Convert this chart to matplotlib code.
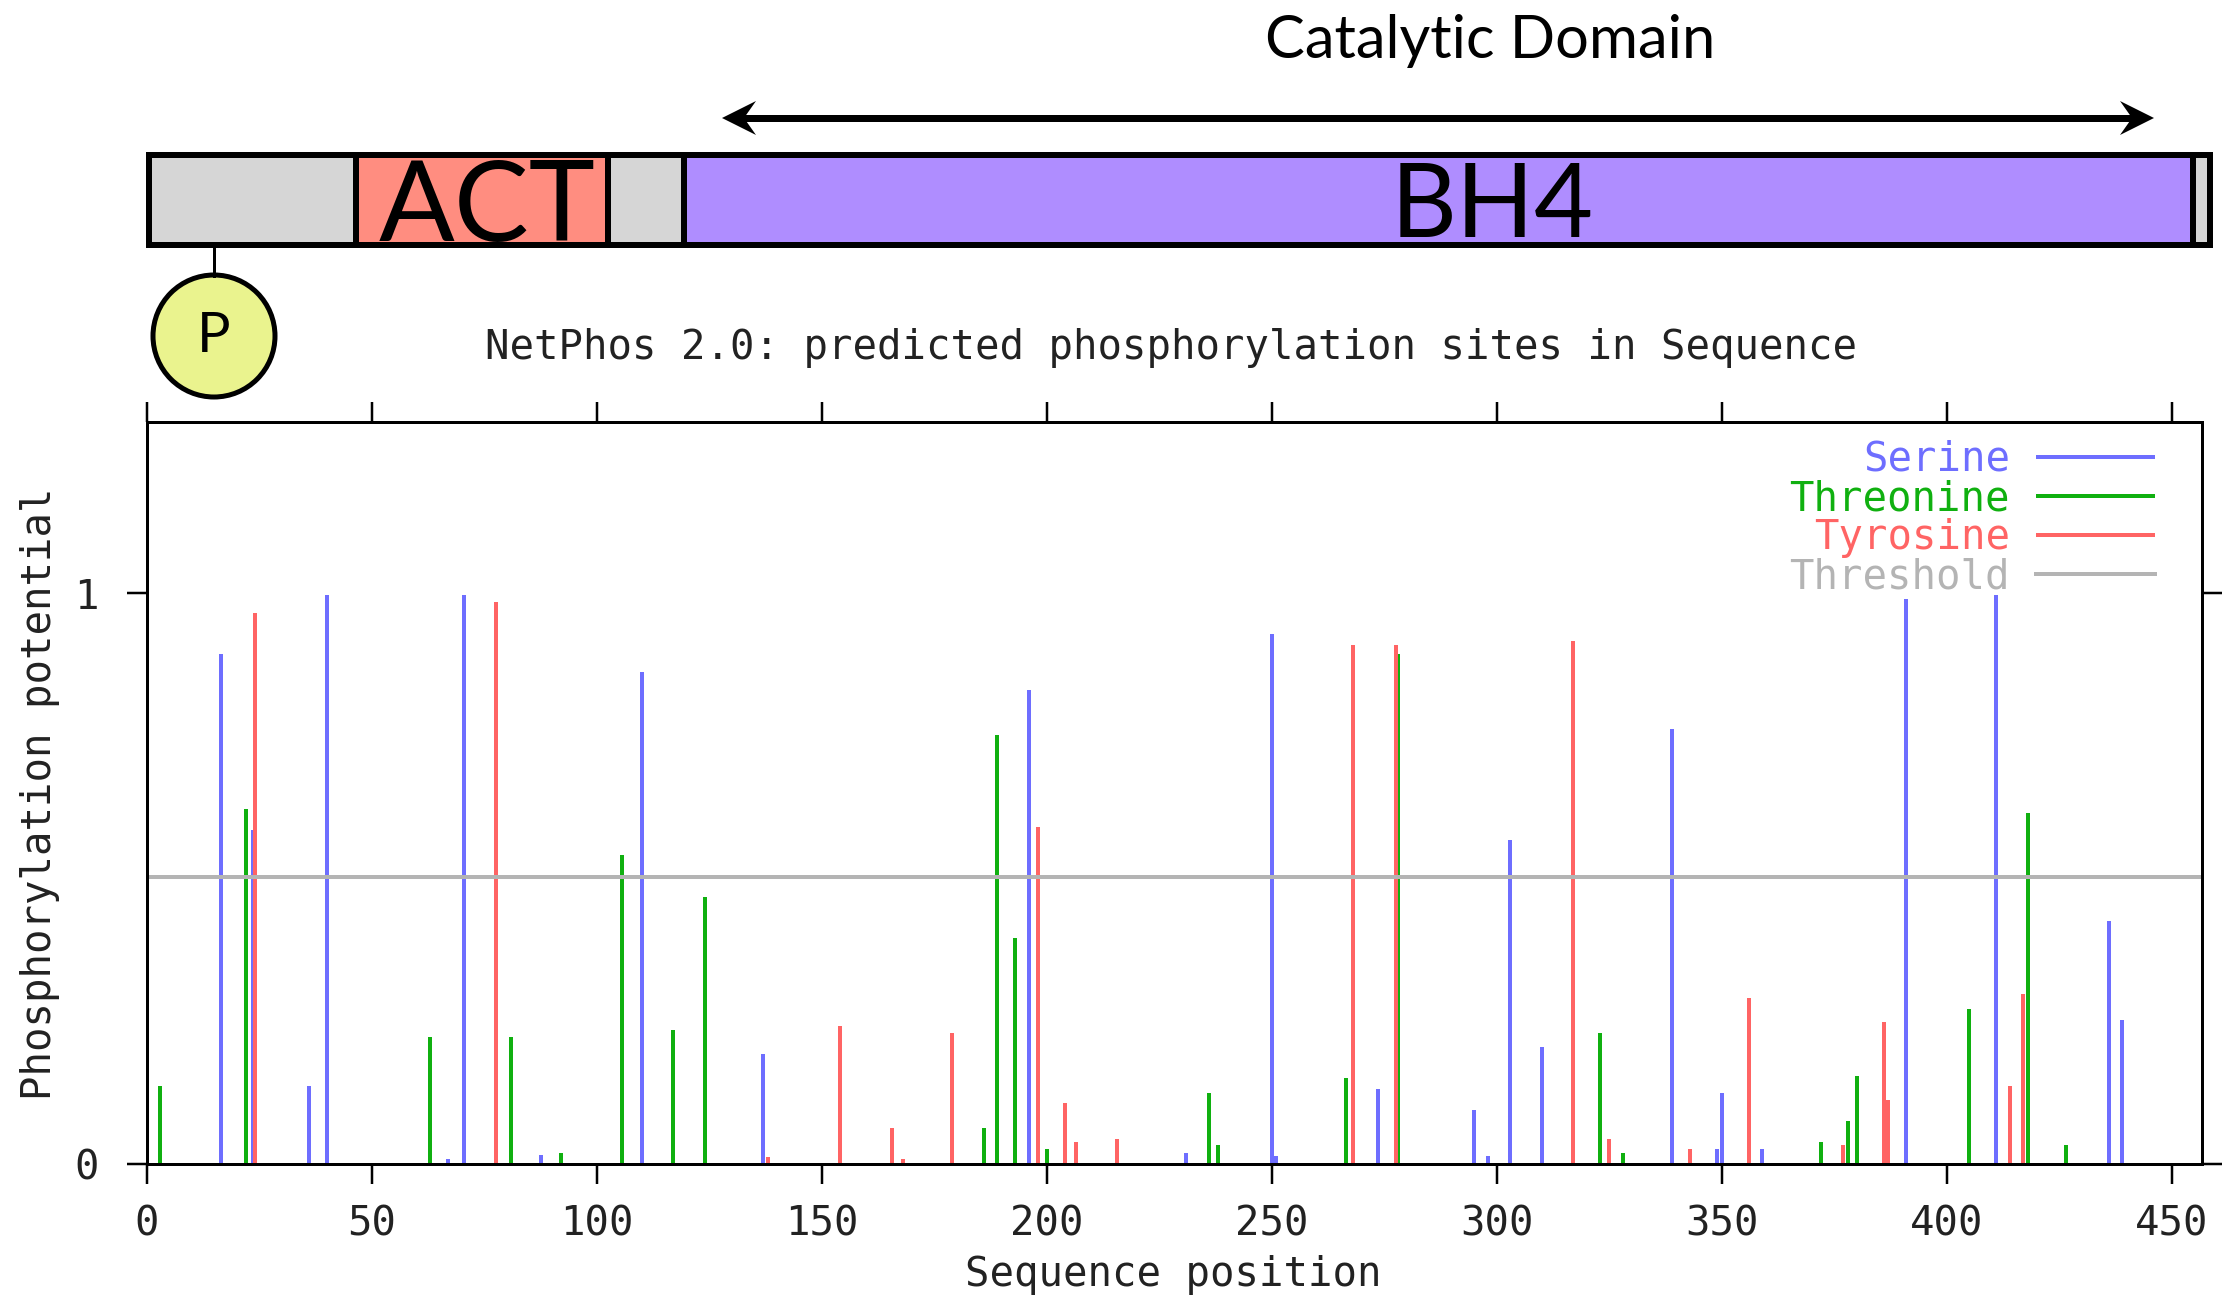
import matplotlib
matplotlib.use("Agg")
import matplotlib.pyplot as plt
from matplotlib.patches import Rectangle, Ellipse, Polygon

# NetPhos values
serine_pos = [16.5, 23.5, 36, 40, 67, 70.5, 87.5, 110, 137, 196, 231, 250, 251, 273.5, 295, 298, 303, 310,
              339, 349, 350, 359, 391, 411, 436, 439, 446]
serine_val = [0.893, 0.585, 0.137, 0.997, 0.008, 0.997, 0.015, 0.862, 0.192, 0.831, 0.02, 0.929, 0.014, 0.131,
              0.094, 0.014, 0.567, 0.205, 0.763, 0.026, 0.125, 0.026, 0.99, 0.997, 0.425, 0.253, 0.002]
threonine_pos = [3, 22, 63, 81, 92, 105.5, 117, 124, 186, 189, 193, 200, 236, 238, 266.5, 278, 323, 328, 372,
                 378, 380, 405, 418, 426.5]
threonine_val = [0.137, 0.622, 0.223, 0.223, 0.02, 0.542, 0.235, 0.468, 0.063, 0.751, 0.396, 0.026, 0.125, 0.033,
                 0.15, 0.893, 0.229, 0.02, 0.038, 0.075, 0.155, 0.272, 0.615, 0.033]
tyrosine_pos = [24, 77.5, 138, 154, 165.5, 168, 179, 198, 204, 206.5, 215.5, 268, 277.5, 317, 325, 343, 356,
                377, 386, 387, 414, 417]
tyrosine_val = [0.965, 0.985, 0.013, 0.241, 0.063, 0.008, 0.229, 0.591, 0.106, 0.038, 0.044, 0.91, 0.91, 0.917,
                0.044, 0.026, 0.29, 0.033, 0.248, 0.113, 0.137, 0.297]
threshold = 0.503

x_ticks = [0, 50, 100, 150, 200, 250, 300, 350, 400, 450]
y_ticks = [0, 1]

# domain strip, pixel edges on the figure
domain_names = ["", "ACT", "", "BH4", ""]
domain_colors = ["#D6D6D6", "#FF8D80", "#D6D6D6", "#AF8DFF", "#D6D6D6"]
domain_edges = [149, 356, 608, 684, 2193, 2210]
label_centers = {"ACT": 487, "BH4": 1492}
label_sizes = {"ACT": 112, "BH4": 102}

BLUE = "#6E6EFF"
GREEN = "#10B010"
RED = "#FF6464"
GREY = "#B4B4B4"

W, H = 2222, 1296
PX = 72 / 100  # points per pixel at dpi 100
MONO = "DejaVu Sans Mono"
FS = 40.6 * PX

fig = plt.figure(figsize=(W / 100, H / 100), dpi=100, facecolor="white")

# Plot area
ax = fig.add_axes([147 / W, 1 - 1164 / H, (2202 - 147) / W, (1164 - 422) / H])
ax.set_xlim(0, 456.7)
ax.set_ylim(0, 1.3)

LW = 4 * PX
ax.vlines(serine_pos, 0, serine_val, color=BLUE, lw=LW, label="Serine")
ax.vlines(threonine_pos, 0, threonine_val, color=GREEN, lw=LW, label="Threonine")
ax.vlines(tyrosine_pos, 0, tyrosine_val, color=RED, lw=LW, label="Tyrosine")
ax.axhline(threshold, color=GREY, lw=LW, label="Threshold")

ax.set_xticks(x_ticks)
ax.set_yticks(y_ticks)
ax.tick_params(axis="both", direction="out", length=20 * PX, width=2.5 * PX, top=True, right=True,
               labelsize=FS, labelcolor="#222222", pad=21 * PX)
ax.tick_params(axis="y", pad=28 * PX)
for label in ax.get_xticklabels() + ax.get_yticklabels():
    label.set_family(MONO)
for spine in ax.spines.values():
    spine.set_linewidth(3 * PX)
    spine.set_zorder(5)

leg = ax.legend(loc="upper right", bbox_to_anchor=(2155 / W, 1 - 440 / H), bbox_transform=fig.transFigure,
                frameon=False, markerfirst=False, borderaxespad=0, borderpad=0,
                handlelength=2.93, handletextpad=0.64, labelspacing=-0.02,
                prop={"family": MONO, "size": FS})
# vlines handles do not feed labelcolor="linecolor"
for text, color in zip(leg.get_texts(), [BLUE, GREEN, RED, GREY]):
    text.set_color(color)

# Overlay in pixel coordinates
ov = fig.add_axes([0, 0, 1, 1])
ov.set_xlim(0, W)
ov.set_ylim(H, 0)
ov.axis("off")
ov.patch.set_alpha(0)

for i, name in enumerate(domain_names):
    x0, x1 = domain_edges[i], domain_edges[i + 1]
    ov.add_patch(Rectangle((x0, 155), x1 - x0, 90, facecolor=domain_colors[i], edgecolor="black", lw=6 * PX))
    if name:
        ov.text(label_centers[name], 199, name, family="Lato", fontsize=label_sizes[name] * PX,
                ha="center", va="center_baseline", color="black")

# Double headed arrow with notched heads
ov.plot([740, 2136], [118, 118], color="black", lw=7 * PX, solid_capstyle="butt")
ov.add_patch(Polygon([(722, 118), (756, 101), (744, 118), (756, 135)], color="black", lw=0))
ov.add_patch(Polygon([(2154, 118), (2120, 101), (2132, 118), (2120, 135)], color="black", lw=0))
ov.text(1490, 41, "Catalytic Domain", family="Lato", fontsize=59.7 * PX, ha="center", va="center", color="black")

ov.plot([214, 214], [248, 276], color="black", lw=3 * PX)
ov.add_patch(Ellipse((214, 336), 122, 122, facecolor="#EAF38E", edgecolor="black", lw=5 * PX))
ov.text(214, 336, "P", family="Lato", fontsize=56 * PX, ha="center", va="center", color="black")

ov.text(1171, 348, "NetPhos 2.0: predicted phosphorylation sites in Sequence", family=MONO, fontsize=FS,
        ha="center", va="center", color="#222222")
ov.text(1173, 1275, "Sequence position", family=MONO, fontsize=FS, ha="center", va="center", color="#222222")
ov.text(40, 794, "Phosphorylation potential", family=MONO, fontsize=FS, rotation=90, ha="center", va="center",
        color="#222222")

fig.savefig("out.png", dpi=100)
